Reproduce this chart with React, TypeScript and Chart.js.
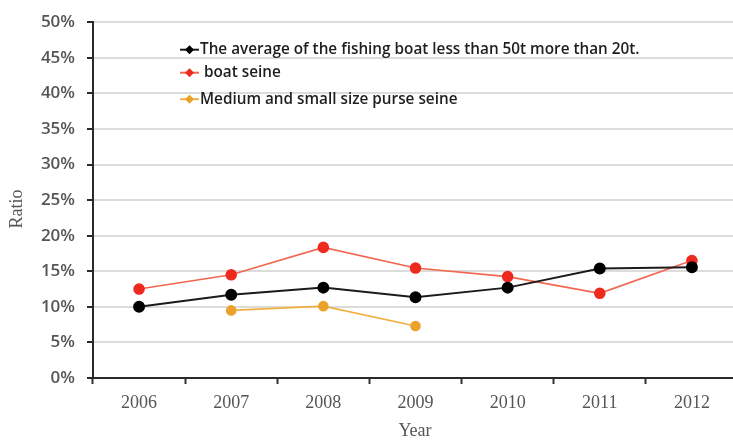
import React, { useEffect, useRef } from "react";
import { Chart, registerables } from "chart.js";

Chart.register(...registerables);

const years = ["2006", "2007", "2008", "2009", "2010", "2011", "2012"];
const averageSeries = [10.0, 11.7, 12.7, 11.35, 12.7, 15.4, 15.55];
const boatSeineSeries = [12.5, 14.5, 18.35, 15.45, 14.25, 11.9, 16.5];
const purseSeineSeries = [null, 9.5, 10.1, 7.3, null, null, null];
const seriesLabels = [
  "The average of the fishing boat less than 50t more than 20t.",
  " boat seine",
  "Medium and small size purse seine",
];
const xTitle = "Year";
const yTitle = "Ratio";
const lineColors = ["#1f1a1a", "#f36650", "#f0b040"];
const pointColors = ["#000000", "#ee2a1f", "#eba22a"];

const legendPlugin = {
  id: "insideLegend",
  afterDatasetsDraw(chart: any) {
    const { ctx, chartArea } = chart;
    const x0 = chartArea.left + 87;
    const rows = [chartArea.top + 27.5, chartArea.top + 50.5, chartArea.top + 77];
    ctx.save();
    seriesLabels.forEach((label, i) => {
      const y = rows[i];
      ctx.strokeStyle = lineColors[i];
      ctx.lineWidth = 2;
      ctx.beginPath();
      ctx.moveTo(x0, y);
      ctx.lineTo(x0 + 19, y);
      ctx.stroke();
      ctx.fillStyle = pointColors[i];
      ctx.beginPath();
      const cx = x0 + 9.5;
      ctx.moveTo(cx, y - 4.5);
      ctx.lineTo(cx + 4.5, y);
      ctx.lineTo(cx, y + 4.5);
      ctx.lineTo(cx - 4.5, y);
      ctx.closePath();
      ctx.fill();
      ctx.fillStyle = "#1e1e1e";
      ctx.font = "600 15.3px 'Open Sans'";
      ctx.textBaseline = "middle";
      ctx.textAlign = "left";
      ctx.fillText(label, x0 + 20, y);
    });
    // axis titles
    ctx.fillStyle = "#555";
    ctx.font = "18px 'Liberation Serif'";
    ctx.textAlign = "center";
    ctx.textBaseline = "middle";
    ctx.fillText(xTitle, (chartArea.left + chartArea.right) / 2 - 0.5, 431);
    ctx.translate(17, 209);
    ctx.rotate(-Math.PI / 2);
    ctx.fillText(yTitle, 0, 0);
    ctx.restore();
  },
};

export default function App() {
  const ref = useRef<HTMLCanvasElement>(null);
  useEffect(() => {
    if (!ref.current) return;
    const chart = new Chart(ref.current, {
      type: "line",
      data: {
        labels: years,
        datasets: [
          {
            label: seriesLabels[0],
            data: averageSeries,
            borderColor: lineColors[0],
            backgroundColor: pointColors[0],
            pointBackgroundColor: pointColors[0],
            pointBorderColor: pointColors[0],
            borderWidth: 2,
            pointRadius: 5,
          },
          {
            label: seriesLabels[1],
            data: boatSeineSeries,
            borderColor: lineColors[1],
            backgroundColor: pointColors[1],
            pointBackgroundColor: pointColors[1],
            pointBorderColor: pointColors[1],
            borderWidth: 1.6,
            pointRadius: 5,
          },
          {
            label: seriesLabels[2],
            data: purseSeineSeries,
            borderColor: lineColors[2],
            backgroundColor: pointColors[2],
            pointBackgroundColor: pointColors[2],
            pointBorderColor: pointColors[2],
            borderWidth: 1.6,
            pointRadius: 4.5,
          },
        ],
      },
      options: {
        animation: false,
        responsive: false,
        layout: { padding: { top: 20, right: 1, left: 0, bottom: 0 } },
        plugins: { legend: { display: false }, tooltip: { enabled: false } },
        scales: {
          x: {
            offset: true,
            grid: {
              offset: true,
              drawOnChartArea: false,
              tickColor: "#333",
              tickLength: 6,
              tickWidth: 2,
            },
            border: { color: "#2a2a2a", width: 2 },
            ticks: {
              color: "#555",
              font: { family: "'Liberation Serif'", size: 18 },
              padding: 8,
            },
            afterFit(scale: any) {
              scale.height = 62;
            },
          },
          y: {
            min: 0,
            max: 50,
            ticks: {
              stepSize: 5,
              color: "#555",
              font: { family: "'Open Sans'", size: 17, weight: "600" },
              padding: 12,
              callback: (v: any) => v + "%",
            },
            grid: {
              color: "#dcdcdc",
              lineWidth: 2,
              tickColor: "#2a2a2a",
              tickLength: 6,
              tickWidth: 2,
            },
            border: { color: "#2a2a2a", width: 2 },
            afterFit(scale: any) {
              scale.width = 93;
            },
          },
        },
      },
      plugins: [legendPlugin],
    });
    return () => chart.destroy();
  }, []);
  return (
    <div
      style={{
        position: "fixed",
        left: 0,
        top: 0,
        width: 733,
        height: 440,
        overflow: "hidden",
        background: "#fff",
      }}
    >
      <canvas ref={ref} width={745} height={440} style={{ display: "block" }} />
    </div>
  );
}
